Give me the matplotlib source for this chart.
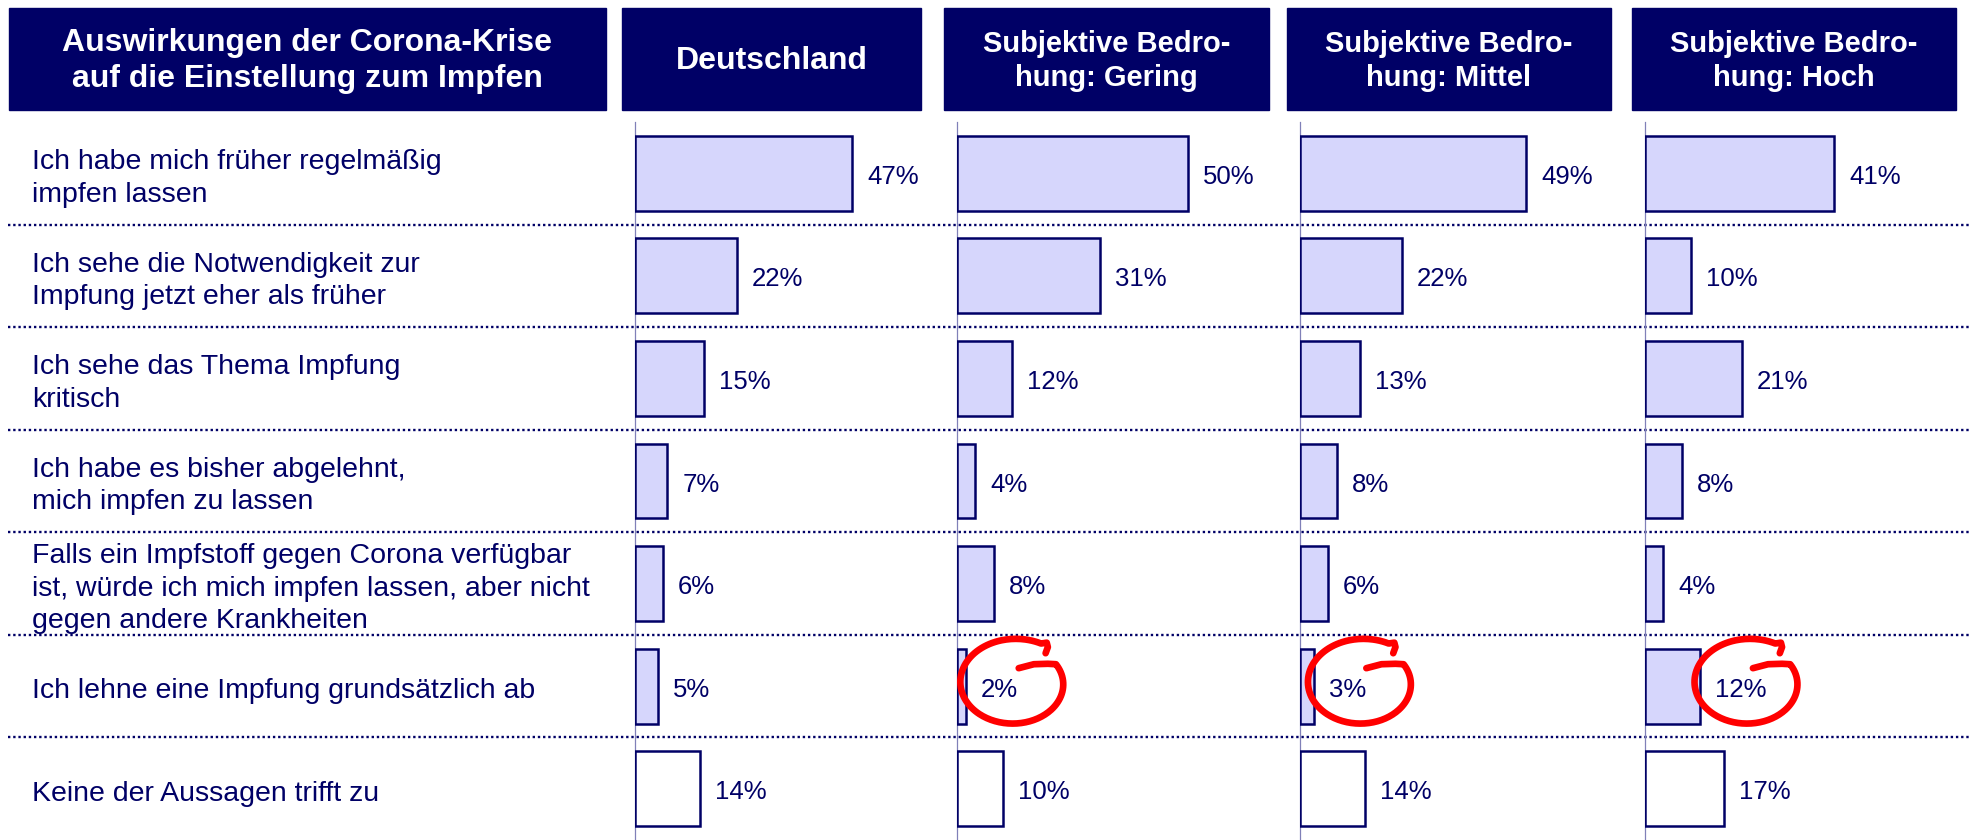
import numpy as np
import matplotlib
matplotlib.use('Agg')
import matplotlib.pyplot as plt
from matplotlib.patches import Rectangle

plt.rcParams['font.family'] = ['Liberation Sans', 'DejaVu Sans']

# Daten
title = 'Auswirkungen der Corona-Krise\nauf die Einstellung zum Impfen'
statements = [
    'Ich habe mich früher regelmäßig\nimpfen lassen',
    'Ich sehe die Notwendigkeit zur\nImpfung jetzt eher als früher',
    'Ich sehe das Thema Impfung\nkritisch',
    'Ich habe es bisher abgelehnt,\nmich impfen zu lassen',
    'Falls ein Impfstoff gegen Corona verfügbar\nist, würde ich mich impfen lassen, aber nicht\ngegen andere Krankheiten',
    'Ich lehne eine Impfung grundsätzlich ab',
    'Keine der Aussagen trifft zu',
]
columns = ['Deutschland',
           'Subjektive Bedro-\nhung: Gering',
           'Subjektive Bedro-\nhung: Mittel',
           'Subjektive Bedro-\nhung: Hoch']
deutschland = [47, 22, 15, 7, 6, 5, 14]
gering = [50, 31, 12, 4, 8, 2, 10]
mittel = [49, 22, 13, 8, 6, 3, 14]
hoch = [41, 10, 21, 8, 4, 12, 17]
values = [deutschland, gering, mittel, hoch]
circled = [(1, 5), (2, 5), (3, 5)]  # (Spalte, Zeile) rot markiert

navy = '#000066'
fill = '#d6d6fc'

# Layout in Pixeln
W, H = 1970, 840
top = 122
row_h = (H - top) / 7
axis_x = [635, 957, 1300, 1645]
box_w = [299, 325, 324, 324]
ax_w = 300
px_per_pct = 4.62

fig = plt.figure(figsize=(W / 100, H / 100), dpi=100)
bg = fig.add_axes([0, 0, 1, 1])
bg.set_xlim(0, W)
bg.set_ylim(H, 0)
bg.axis('off')

# Kopfzeile
bg.add_patch(Rectangle((9, 8), 597, 102, color=navy))
bg.text(9 + 597 / 2, 61, title, color='white', fontsize=23, fontweight='bold',
        ha='center', va='center', linespacing=1.25)
for i, name in enumerate(columns):
    x0 = axis_x[i] - 13
    bg.add_patch(Rectangle((x0, 8), box_w[i], 102, color=navy))
    fs = 23 if '\n' not in name else 21
    bg.text(x0 + box_w[i] / 2, 61, name, color='white', fontsize=fs,
            fontweight='bold', ha='center', va='center', linespacing=1.28)

# Zeilenbeschriftungen und gepunktete Trennlinien
for r, s in enumerate(statements):
    bg.text(32, top + row_h * (r + 0.5) + 5, s, color=navy, fontsize=20.5,
            ha='left', va='center', linespacing=1.33)
    if r > 0:
        bg.plot([8, W], [top + row_h * r] * 2, color=navy, lw=1.7,
                dashes=(1, 1.2), dash_capstyle='butt')

y = np.arange(7) + 0.5
for i, vals in enumerate(values):
    ax = fig.add_axes([axis_x[i] / W, 0, ax_w / W, (H - top) / H])
    ax.patch.set_visible(False)
    ax.set_xlim(0, ax_w / px_per_pct)
    ax.set_ylim(7, 0)
    colors = [fill] * 6 + ['white']
    ax.barh(y, vals, height=0.73, color=colors, edgecolor=navy, linewidth=1.8, zorder=3)
    for sp in ['top', 'right', 'bottom']:
        ax.spines[sp].set_visible(False)
    ax.spines['left'].set_color('#8080b8')
    ax.spines['left'].set_linewidth(0.9)
    ax.set_xticks([])
    ax.set_yticks([])
    pad = 15 / px_per_pct
    for v, yy in zip(vals, y):
        ax.text(v + pad, yy + 0.035, f'{v}%', color=navy, fontsize=18.5,
                ha='left', va='center')
    # rote Kreise
    for c, r in circled:
        if c != i:
            continue
        cx, cy = ax.transData.transform((vals[r] + pad, y[r])) + np.array([33, 3])
        a, b = 56, 44
        t = np.radians(np.linspace(30, -298, 200))
        rr = np.linspace(0.86, 1.02, t.size)
        px = cx + a * rr * np.cos(t)
        py = cy + b * rr * np.sin(t)
        tail_x = cx + a * np.array([0.08, 0.35, 0.6])
        tail_y = cy + b * np.array([0.34, 0.43, 0.44])
        hook_x = cx + a * np.array([0.58, 0.6, 0.56])
        hook_y = cy + b * np.array([0.92, 0.82, 0.68])
        pts = np.column_stack([np.concatenate([tail_x, px, hook_x]),
                               np.concatenate([tail_y, py, hook_y])])
        d = ax.transData.inverted().transform(pts)
        ax.plot(d[:, 0], d[:, 1], color='#ff0000', lw=4.8, clip_on=False,
                solid_capstyle='round', solid_joinstyle='round', zorder=6)

fig.savefig('out.png', dpi=100)
